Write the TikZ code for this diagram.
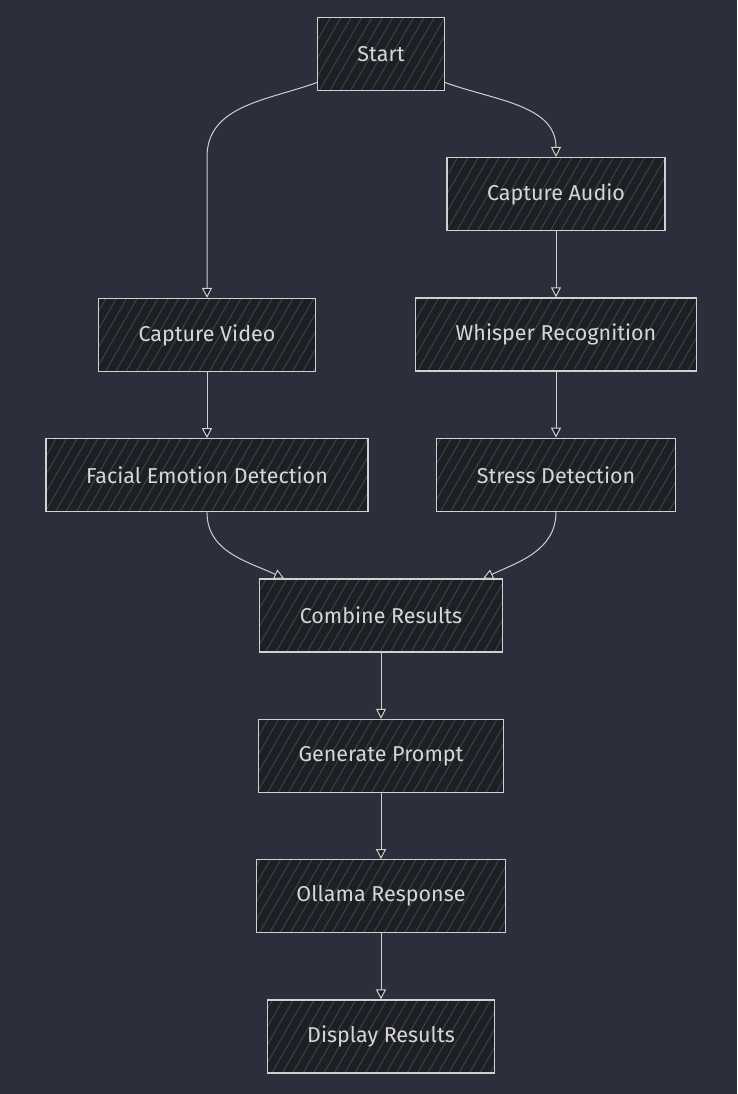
\documentclass[tikz,border=0pt]{standalone}
\usepackage{fontspec}
\setmainfont{Fira Sans}
\usetikzlibrary{positioning,arrows.meta,patterns.meta}

\definecolor{bgcol}{HTML}{2A2F3B}
\definecolor{boxcol}{HTML}{1E1F22}
\definecolor{hatchcol}{HTML}{3A4257}
\definecolor{edgecol}{HTML}{D0D0D0}
\definecolor{txtcol}{HTML}{D6D6D6}

\tikzset{
  box/.style={draw=edgecol, line width=1.3pt, preaction={fill=boxcol},
    pattern={Lines[angle=60,distance=9pt,line width=1pt]}, pattern color=hatchcol,
    minimum height=73pt, inner xsep=40pt, text=txtcol,
    font=\fontsize{21.5}{25}\selectfont},
  flow/.style={draw=edgecol, line width=1pt,
    -{Triangle[length=10pt,width=10pt,fill=boxcol]}},
}

\begin{document}
\begin{tikzpicture}[x=1pt,y=1pt,node distance=66pt]
  \fill[bgcol] (0,0) rectangle (737,-1094);

  \node[box] (start) at (381,-54) {Start};
  % right column
  \node[box, below=of start, xshift=175pt] (audio) {Capture Audio};
  \node[box, below=of audio] (whisper) {Whisper Recognition};
  \node[box, below=of whisper] (stress) {Stress Detection};
  % left column
  \node[box] (video) at (207,-335) {Capture Video};
  \node[box, below=of video] (facial) {Facial Emotion Detection};
  % middle
  \node[box, below=of facial, xshift=174pt] (combine) {Combine Results};
  \node[box, below=of combine] (prompt) {Generate Prompt};
  \node[box, below=of prompt] (ollama) {Ollama Response};
  \node[box, below=of ollama] (display) {Display Results};

  \draw[flow] (start.204) to[out=200,in=90] (video.north |- audio.north) -- (video.north);
  \draw[flow] (start.336) to[out=-20,in=90] (audio.north);
  \draw[flow] (audio) -- (whisper);
  \draw[flow] (whisper) -- (stress);
  \draw[flow] (video) -- (facial);
  \draw[flow] (facial.south) to[out=-90,in=155] (combine.159);
  \draw[flow] (stress.south) to[out=-90,in=25] (combine.20);
  \draw[flow] (combine) -- (prompt);
  \draw[flow] (prompt) -- (ollama);
  \draw[flow] (ollama) -- (display);
\end{tikzpicture}
\end{document}
